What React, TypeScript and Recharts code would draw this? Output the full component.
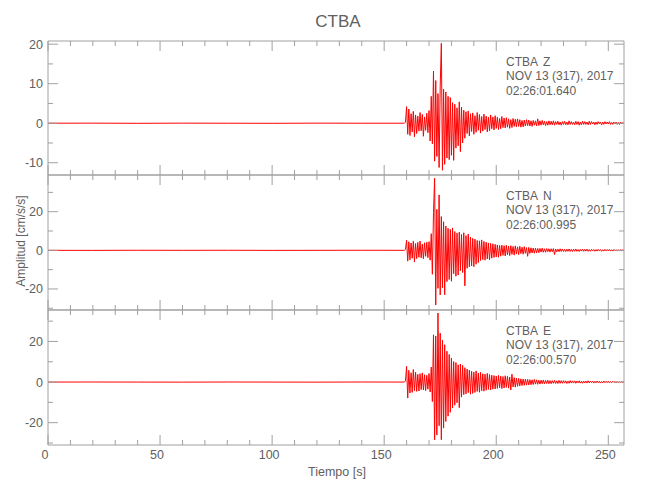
import React from 'react';
import { LineChart, Line, XAxis, YAxis } from 'recharts';

const STATION = 'CTBA';
const DATE_LABEL = 'NOV 13 (317), 2017';
const COMPONENTS = ['Z', 'N', 'E'];
const START_TIMES = ['02:26:01.640', '02:26:00.995', '02:26:00.570'];

const TIME_MAX = 257;
const X_TICKS = [0, 10, 20, 30, 40, 50, 60, 70, 80, 90, 100, 110, 120, 130, 140, 150, 160, 170, 180, 190, 200, 210, 220, 230, 240, 250];
const X_MAJOR = [0, 50, 100, 150, 200, 250];

const Z_TICKS = [-10, -5, 0, 5, 10, 15, 20];
const Z_MAJOR = [-10, 0, 10, 20];
const NE_TICKS = [-30, -20, -10, 0, 10, 20, 30];
const NE_MAJOR = [-20, 0, 20];

// quiet trace before the P arrival (s, cm/s/s)
const QUIET_T = [0, 20, 40, 60, 80, 100, 120, 140, 159];
const QUIET_Z = [0, 0.02, -0.02, 0.02, 0, -0.02, 0.02, 0, 0];
const QUIET_N = [0, -0.03, 0.03, 0, 0.03, -0.03, 0, 0.03, 0];
const QUIET_E = [0, 0.03, 0, -0.03, 0.03, 0, -0.03, 0.03, 0];

// after onset: one reading every 0.5 s starting at 159.5 s
const SIG_T0 = 159.5;
const SIG_DT = 0.5;

const SIG_Z = [
  0.3, 4.2, -2.8, 3.6, -3.1, 2.4, -2.2, 3.0, -3.4, 2.1,
  -2.6, 1.8, -2.0, 2.7, -1.9, 2.2, -3.3, 1.6, -1.8, 2.5,
  -2.4, 3.2, -4.5, 6.8, -5.2, 13.2, -9.6, 10.8, -8.4, 7.5,
  -11.2, 9.4, 20.2, -11.9, 8.6, -10.4, 7.9, -8.8, 6.8, -9.2,
  6.5, -8.1, 5.2, -9.4, 4.8, -6.3, 3.9, -5.7, 5.4, -7.2,
  4.1, -5.0, 3.3, -3.8, 2.9, -2.6, 3.1, -3.2, 2.4, -2.1,
  2.6, -2.8, 1.9, -2.3, 2.7, -1.8, 2.2, -2.5, 1.7, -2.0,
  2.3, -1.6, 1.8, -2.2, 1.5, -1.9, 2.1, -1.4, 1.6, -1.7,
  1.9, -1.3, 1.5, -1.6, 1.2, -1.4, 1.7, -1.1, 1.3, -1.2,
  1.4, -1.0, 1.1, -1.3, 0.9, -1.1, 1.2, -0.8, 1.0, -0.9,
  1.1, -0.8, 0.9, -1.0, 0.7, -0.9, 0.8, -0.7, 0.9, -0.6,
  0.8, -0.7, 0.6, -0.8, 0.7, -0.5, 0.6, -0.7, 1.1, -0.6,
  0.6, -0.5, 0.7, -0.4, 0.5, -0.6, 0.4, -0.5, 0.6, -0.4,
  0.5, -0.4, 0.6, -0.5, 0.4, -0.3, 0.5, -0.4, 0.3, -0.5,
  0.4, -0.3, 0.5, -0.4, 0.3, -0.4, 0.6, -0.3, 0.4, -0.3,
  0.3, -0.4, 0.5, -0.3, 0.4, -0.5, 0.3, -0.4, 0.5, -0.3,
  0.4, -0.3, 0.3, -0.4, 0.5, -0.3, 0.4, -0.2, 0.3, -0.4,
  0.3, -0.3, 0.4, -0.2, 0.3, -0.4, 0.3, -0.3, 0.4, -0.2,
  0.3, -0.2, 0.4, -0.3, 0.2, -0.3, 0.3, -0.2, 0.3, -0.3,
  0.2, -0.3, 0.3, -0.2, 0.2, -0.1,
];

const SIG_N = [
  0.5, 5.2, -5.6, 4.4, -4.9, 3.8, -4.1, 4.7, -6.0, 3.5,
  -4.3, 4.1, -3.6, 4.8, -3.9, 3.2, -4.4, 3.9, -3.1, 4.2,
  -3.8, 4.5, -5.1, 8.6, -12.4, 19.5, 37.3, -28.3, 21.2, -19.7,
  28.7, -23.1, 17.5, -19.4, 14.8, -23.0, 12.6, -16.2, 11.4, -15.1,
  10.8, -16.0, 11.6, -12.1, 9.7, -13.4, 8.9, -12.8, 9.4, -10.6,
  8.2, -11.5, 9.1, -18.4, 7.6, -9.3, 8.4, -8.6, 6.9, -8.1,
  6.2, -8.5, 5.8, -7.2, 5.1, -6.4, 4.9, -5.3, 5.4, -4.8,
  4.6, -5.1, 4.2, -4.5, 3.8, -4.9, 3.6, -4.1, 3.4, -3.7,
  3.1, -3.4, 2.8, -3.6, 2.5, -3.0, 2.7, -2.6, 2.4, -2.9,
  2.6, -2.3, 2.2, -2.7, 2.4, -2.1, 2.0, -2.5, 2.3, -1.9,
  1.8, -2.2, 2.1, -1.7, 1.6, -2.0, 1.9, -1.5, 1.4, -3.1,
  1.5, -1.6, 1.3, -1.4, 1.2, -1.5, 1.1, -1.3, 1.0, -1.2,
  1.0, -0.9, 1.1, -1.0, 0.8, -1.0, 0.9, -0.7, 0.8, -0.9,
  0.8, -0.7, 0.9, -2.2, 0.7, -0.8, 0.6, -0.7, 0.8, -0.6,
  0.7, -0.6, 0.5, -0.7, 0.6, -0.5, 0.7, -0.6, 0.5, -0.6,
  0.6, -0.5, 0.7, -0.5, 0.4, -0.6, 0.5, -0.4, 0.6, -0.5,
  0.5, -0.4, 0.6, -0.5, 0.4, -0.5, 0.5, -0.3, 0.4, -0.5,
  0.4, -0.4, 0.5, -0.3, 0.4, -0.5, 0.3, -0.4, 0.5, -0.3,
  0.4, -0.3, 0.5, -0.4, 0.3, -0.4, 0.4, -0.3, 0.3, -0.4,
  0.3, -0.3, 0.4, -0.2, 0.3, -0.2,
];

const SIG_E = [
  0.6, 7.7, -7.9, 5.8, -5.4, 4.6, -5.1, 6.2, -4.3, 4.9,
  -4.6, 3.8, -4.4, 4.1, -3.7, 4.5, -3.9, 3.6, -4.2, 3.3,
  -3.5, 4.2, -4.9, 7.4, -9.6, 23.3, -28.4, 22.7, -26.1, 34.0,
  -21.5, 24.1, -28.4, 20.6, -22.7, 18.4, -19.4, 15.2, -16.8, 13.6,
  -14.9, 11.8, -12.8, 10.1, -11.4, 9.6, -10.2, 8.5, -12.6, 8.9,
  -7.4, 8.2, -6.2, 7.1, -5.8, 6.4, -5.2, 5.9, -6.0, 5.3,
  -5.6, 4.9, -5.1, 5.5, -4.6, 4.4, -5.0, 4.8, -4.3, 4.1,
  -4.5, 3.9, -4.0, 4.3, -3.6, 3.7, -3.9, 3.4, -3.5, 3.2,
  -3.4, 3.0, -3.1, 3.3, -2.8, 2.9, -3.2, 2.7, -2.9, 3.1,
  -2.6, 2.8, -3.0, 2.5, -3.9, 3.9, -2.4, 2.2, -2.5, 2.0,
  -2.1, 1.8, -1.9, 1.6, -1.7, 1.5, -1.6, 1.4, -1.5, 1.3,
  -1.4, 1.2, -1.3, 1.1, -1.2, 1.3, -1.0, 1.1, -1.1, 0.9,
  -1.0, 0.9, -0.8, 1.0, -0.9, 0.8, -0.7, 0.9, -0.8, 0.7,
  -0.8, 0.7, -0.6, 0.8, -0.7, 0.6, -0.7, 0.8, -0.6, 0.7,
  -0.6, 0.7, -0.5, 0.6, -0.7, 0.5, -0.6, 0.7, -0.5, 0.6,
  -0.5, 0.6, -0.6, 0.5, -0.4, 0.6, -0.5, 0.4, -0.6, 0.5,
  -0.4, 0.5, -0.5, 0.6, -0.4, 0.5, -0.3, 0.4, -0.5, 0.4,
  -0.4, 0.5, -0.3, 0.4, -0.5, 0.3, -0.4, 0.5, -0.3, 0.4,
  -0.3, 0.4, -0.4, 0.3, -0.3, 0.4, -0.2, 0.3, -0.4, 0.3,
  -0.3, 0.2, -0.3, 0.3, -0.2, 0.2,
];

const FONT = "'Liberation Sans', Arial, sans-serif";
const AXIS_COLOR = '#a0a0a0';
const TEXT_COLOR = '#606060';
const TRACE_COLOR = '#ff0000';

type Side = 'left' | 'right' | 'top' | 'bottom';

function buildRows(quiet: number[], sig: number[]) {
  const rows = QUIET_T.map((t, i) => ({ t, v: quiet[i] }));
  sig.forEach((v, i) => rows.push({ t: SIG_T0 + i * SIG_DT, v }));
  return rows;
}

function renderTick(props: any, side: Side, majors: number[], showLabel: boolean) {
  const { x, y, payload } = props;
  const v = payload.value;
  const major = majors.includes(v);
  const len = major ? 10 : 5;
  let x2 = x;
  let y2 = y;
  if (side === 'left') x2 = x + len;
  if (side === 'right') x2 = x - len;
  if (side === 'top') y2 = y + len;
  if (side === 'bottom') y2 = y - len;
  let label = null;
  if (showLabel && major) {
    if (side === 'left') {
      label = (
        <text x={x - 5} y={y + 4.5} textAnchor="end" fill={TEXT_COLOR} fontSize={12.5} fontFamily={FONT}>
          {v}
        </text>
      );
    } else if (side === 'bottom') {
      label = (
        <text x={x - 3} y={y + 14} textAnchor="middle" fill={TEXT_COLOR} fontSize={12.5} fontFamily={FONT}>
          {v}
        </text>
      );
    }
  }
  return (
    <g>
      <line x1={x} y1={y} x2={x2} y2={y2} stroke={AXIS_COLOR} strokeWidth={1} />
      {label}
    </g>
  );
}

interface PanelProps {
  top: number;
  height: number;
  rows: { t: number; v: number }[];
  domain: [number, number];
  ticks: number[];
  majors: number[];
  showX: boolean;
}

function Panel({ top, height, rows, domain, ticks, majors, showX }: PanelProps) {
  const mt = 20;
  const mb = 20;
  return (
    <div style={{ position: 'absolute', left: 0, top: top - mt }}>
      <LineChart
        width={650}
        height={height + mt + mb}
        data={rows}
        margin={{ top: mt - 1, bottom: mb - 1, left: 47, right: 25 }}
      >
        <XAxis
          xAxisId="b"
          orientation="bottom"
          type="number"
          dataKey="t"
          domain={[0, TIME_MAX]}
          ticks={X_TICKS}
          interval={0}
          allowDataOverflow
          height={1}
          tickSize={0}
          tickMargin={0}
          tickLine={false}
          axisLine={{ stroke: AXIS_COLOR }}
          tick={(p: any) => renderTick(p, 'bottom', X_MAJOR, showX)}
        />
        <XAxis
          xAxisId="t"
          orientation="top"
          type="number"
          dataKey="t"
          domain={[0, TIME_MAX]}
          ticks={X_TICKS}
          interval={0}
          allowDataOverflow
          height={1}
          tickSize={0}
          tickMargin={0}
          tickLine={false}
          axisLine={{ stroke: AXIS_COLOR }}
          tick={(p: any) => renderTick(p, 'top', X_MAJOR, false)}
        />
        <YAxis
          yAxisId="l"
          orientation="left"
          type="number"
          domain={domain}
          ticks={ticks}
          interval={0}
          allowDataOverflow
          width={1}
          tickSize={0}
          tickMargin={0}
          tickLine={false}
          axisLine={{ stroke: AXIS_COLOR }}
          tick={(p: any) => renderTick(p, 'left', majors, true)}
        />
        <YAxis
          yAxisId="r"
          orientation="right"
          type="number"
          domain={domain}
          ticks={ticks}
          interval={0}
          allowDataOverflow
          width={1}
          tickSize={0}
          tickMargin={0}
          tickLine={false}
          axisLine={{ stroke: AXIS_COLOR }}
          tick={(p: any) => renderTick(p, 'right', majors, false)}
        />
        <Line
          xAxisId="b"
          yAxisId="l"
          type="linear"
          dataKey="v"
          stroke={TRACE_COLOR}
          strokeWidth={1}
          dot={false}
          activeDot={false}
          isAnimationActive={false}
        />
      </LineChart>
    </div>
  );
}

const PANEL_TOPS = [41, 175, 310];
const PANEL_HEIGHTS = [134, 135, 135];

export default function App() {
  const panels = [
    { rows: buildRows(QUIET_Z, SIG_Z), domain: [-13.1, 20.8] as [number, number], ticks: Z_TICKS, majors: Z_MAJOR },
    { rows: buildRows(QUIET_N, SIG_N), domain: [-30.9, 39] as [number, number], ticks: NE_TICKS, majors: NE_MAJOR },
    { rows: buildRows(QUIET_E, SIG_E), domain: [-31, 35.5] as [number, number], ticks: NE_TICKS, majors: NE_MAJOR },
  ];

  return (
    <div
      style={{
        position: 'absolute',
        left: 0,
        top: 0,
        width: 650,
        height: 500,
        background: '#ffffff',
        overflow: 'hidden',
      }}
    >
      {panels.map((p, i) => (
        <Panel
          key={COMPONENTS[i]}
          top={PANEL_TOPS[i]}
          height={PANEL_HEIGHTS[i]}
          rows={p.rows}
          domain={p.domain}
          ticks={p.ticks}
          majors={p.majors}
          showX={i === 2}
        />
      ))}
      <svg
        width={650}
        height={500}
        style={{ position: 'absolute', left: 0, top: 0, pointerEvents: 'none' }}
        fontFamily={FONT}
        fill={TEXT_COLOR}
      >
        <text x={338} y={27} textAnchor="middle" fontSize={17}>
          {STATION}
        </text>
        <text x={25} y={241} textAnchor="middle" fontSize={12} transform="rotate(-90 25 241)">
          Amplitud [cm/s/s]
        </text>
        <text x={337} y={476} textAnchor="middle" fontSize={12.5}>
          Tiempo [s]
        </text>
        {COMPONENTS.map((c, i) => {
          const base = PANEL_TOPS[i] + 24.5;
          return (
            <g key={c}>
              <text x={506} y={base} fontSize={12}>
                {STATION}
              </text>
              <text x={543} y={base} fontSize={12}>
                {c}
              </text>
              <text x={506} y={base + 14.5} fontSize={12}>
                {DATE_LABEL}
              </text>
              <text x={506} y={base + 29} fontSize={12}>
                {START_TIMES[i]}
              </text>
            </g>
          );
        })}
      </svg>
    </div>
  );
}
